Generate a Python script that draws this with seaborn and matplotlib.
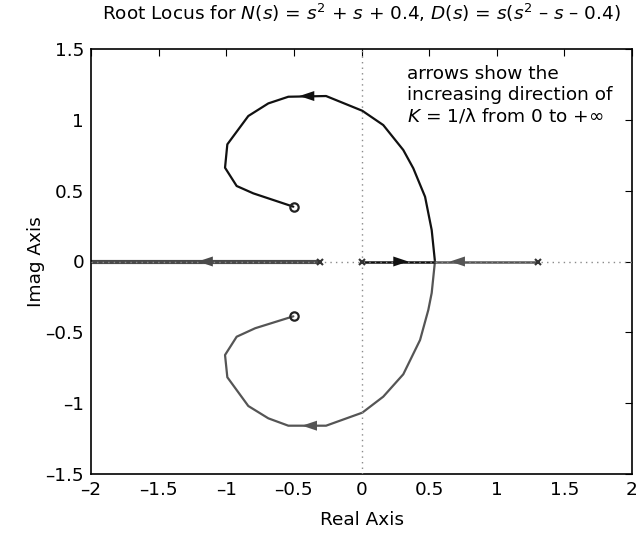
import numpy as np
import pandas as pd
import matplotlib
matplotlib.use("Agg")
import matplotlib.pyplot as plt
import seaborn as sns

# Open-loop poles and zeros
pole_re = [-0.306, 0.0, 1.306]
zero_re = [-0.5, -0.5]
zero_im = [0.387, -0.387]

# Complex branch leaving the real axis upward (breakaway -> upper zero)
upper_re = [0.543, 0.519, 0.47, 0.383, 0.309, 0.161, 0.006, -0.262, -0.541,
            -0.689, -0.837, -0.992, -1.009, -0.923, -0.80, -0.504]
upper_im = [0.0, 0.222, 0.457, 0.658, 0.787, 0.963, 1.064, 1.168, 1.163,
            1.116, 1.027, 0.827, 0.662, 0.533, 0.481, 0.387]

# Complex branch leaving the real axis downward (breakaway -> lower zero)
lower_re = [0.543, 0.519, 0.494, 0.433, 0.309, 0.161, 0.006, -0.262, -0.541,
            -0.689, -0.837, -0.992, -1.009, -0.923, -0.786, -0.504]
lower_im = [0.0, -0.222, -0.342, -0.554, -0.796, -0.954, -1.067, -1.159, -1.159,
            -1.107, -1.02, -0.817, -0.66, -0.531, -0.471, -0.387]

# Real-axis segments
seg_origin_re = [0.0, 0.543]      # from pole at 0 to breakaway
seg_right_re = [1.306, 0.543]     # from pole at 1.306 to breakaway
seg_left_re = [-0.306, -2.2]      # from pole at -0.306 toward -infinity

xticks = [-2, -1.5, -1, -0.5, 0, 0.5, 1, 1.5, 2]
yticks = [-1.5, -1, -0.5, 0, 0.5, 1, 1.5]

FS = 13.3

sns.set_theme(style="white")
plt.rcParams["font.family"] = ["DejaVu Sans"]
plt.rcParams["mathtext.fontset"] = "dejavusans"
plt.rcParams["text.color"] = "black"
plt.rcParams["axes.labelcolor"] = "black"

fig = plt.figure(figsize=(6.38, 5.39), dpi=100)
ax = fig.add_axes([91 / 638, 1 - 474 / 539, 541 / 638, 425 / 539])

BLACK = "#111111"
GRAY = "#555555"

# axis lines through the origin
ax.axhline(0, color="#8a8a8a", lw=1.0, ls=(0, (1, 3)), zorder=3)
ax.axvline(0, color="#8a8a8a", lw=1.0, ls=(0, (1, 3)), zorder=3)

upper = pd.DataFrame({"re": upper_re, "im": upper_im})
lower = pd.DataFrame({"re": lower_re, "im": lower_im})
sns.lineplot(data=upper, x="re", y="im", sort=False, color=BLACK, lw=1.6, ax=ax, zorder=2)
sns.lineplot(data=lower, x="re", y="im", sort=False, color=GRAY, lw=1.6, ax=ax, zorder=2)

ax.plot(seg_origin_re, [0, 0], color=BLACK, lw=1.8, zorder=2)
ax.plot(seg_right_re, [0, 0], color=GRAY, lw=1.8, zorder=2)
ax.plot(seg_left_re, [0, 0], color="#4a4a4a", lw=3.0, zorder=2)


def arrow(tip, base, color):
    ax.annotate("", xy=tip, xytext=base,
                arrowprops=dict(arrowstyle="-|>,head_length=0.9,head_width=0.3",
                                color=color, lw=0, shrinkA=0, shrinkB=0),
                zorder=4)


arrow((-0.46, 1.168), (-0.36, 1.168), BLACK)
arrow((-0.44, -1.159), (-0.34, -1.159), GRAY)
arrow((-1.21, 0), (-1.11, 0), "#4a4a4a")
arrow((0.346, 0), (0.246, 0), BLACK)
arrow((0.654, 0), (0.754, 0), GRAY)

ax.plot(pole_re, [0, 0, 0], ls="none", marker="x", ms=5, mew=1.5, color="#333333", zorder=5)
ax.plot(zero_re, zero_im, ls="none", marker="o", ms=6, mew=1.6, mfc="none", mec="#222222", zorder=5)

ax.set_xlim(-2, 2)
ax.set_ylim(-1.5, 1.5)
ax.set_xticks(xticks)
ax.set_yticks(yticks)
ax.set_xticklabels([f"{v:g}".replace("-", "\u2013") for v in xticks])
ax.set_yticklabels([f"{v:g}".replace("-", "\u2013") for v in yticks])
ax.tick_params(direction="in", length=5, width=0.8, colors="black", labelsize=FS,
               top=True, right=True, pad=5)
for sp in ax.spines.values():
    sp.set_color("black")
    sp.set_linewidth(1.2)

ax.set_xlabel("Real Axis", fontsize=FS, labelpad=9)
ax.set_ylabel("Imag Axis", fontsize=FS, labelpad=0)
ax.set_title("Root Locus for $N(s)$ = $s^2$ + $s$ + 0.4, $D(s)$ = $s$($s^2$ \u2013 $s$ \u2013 0.4)",
             fontsize=FS, pad=21)

ax.text(0.334, 1.39, "arrows show the\nincreasing direction of\n$K$ = 1/\u03bb from 0 to +\u221e",
        fontsize=FS, va="top", ha="left", linespacing=1.22, zorder=6)

fig.savefig("out.png", dpi=100)
